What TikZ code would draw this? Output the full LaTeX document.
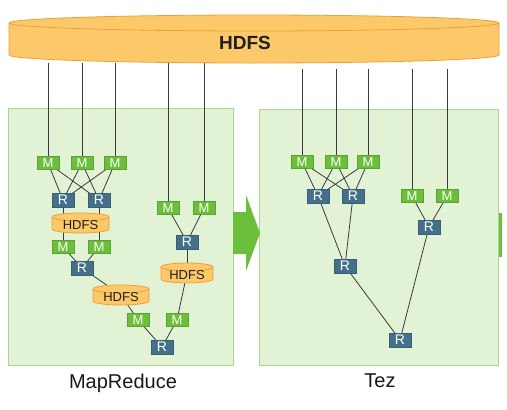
\documentclass[tikz,border=0pt]{standalone}
\usepackage{fontspec}
\setmainfont{Liberation Sans}
\definecolor{mgreen}{HTML}{6CBF3B}
\definecolor{rblue}{HTML}{44708A}
\definecolor{panelfill}{HTML}{E2F2D5}
\definecolor{panelline}{HTML}{A9D98D}
\definecolor{cylfill}{HTML}{FCC96A}
\definecolor{cylline}{HTML}{EE9F35}
\definecolor{edgecol}{HTML}{3A3A3A}
\tikzset{
  mbox/.style={fill=mgreen, draw=mgreen!85!black, line width=0.3pt, minimum width=22pt, minimum height=13pt, inner sep=0pt, text=white, font=\fontsize{13}{13}\selectfont},
  rbox/.style={fill=rblue, draw=rblue!85!black, line width=0.3pt, minimum width=22pt, minimum height=14pt, inner sep=0pt, text=white, font=\fontsize{14}{14}\selectfont},
  panel/.style={fill=panelfill, draw=panelline, line width=1pt},
  cylstyle/.style={fill=cylfill, draw=cylline, line width=0.8pt},
  edge/.style={draw=edgecol, line width=0.8pt},
  biglabel/.style={font=\fontsize{20}{20}\selectfont, text=black!90},
}
\newcommand\hdfscyl[7]{%
  \pgfmathsetmacro\cxl{#2-#4/2}\pgfmathsetmacro\cxr{#2+#4/2}%
  \pgfmathsetmacro\cyt{-#3+#5/2-#6}\pgfmathsetmacro\cyb{-#3-#5/2+#6}%
  \pgfmathsetmacro\crx{#4/2}%
  \filldraw[cylstyle] (\cxl,\cyt) -- (\cxl,\cyb) arc[start angle=180,end angle=360,x radius=\crx pt,y radius=#6pt] -- (\cxr,\cyt) arc[start angle=0,end angle=180,x radius=\crx pt,y radius=#6pt] -- cycle;
  \draw[cylstyle,fill=none] (\cxl,\cyt) arc[start angle=180,end angle=360,x radius=\crx pt,y radius=#6pt];
  \node[inner sep=0pt, minimum width=#4pt, minimum height=#5pt] (#1) at (#2,-#3) {};
  \pgfmathsetmacro\cty{-#3-#6/2}%
  \node[inner sep=0pt, text=black!88, #7] (#1text) at (#2,\cty) {HDFS};
}
\begin{document}
\begin{tikzpicture}[x=1pt,y=1pt]
\useasboundingbox (0,0) rectangle (507,-410);
\fill[white] (0,0) rectangle (507,-410);

% panels
\path[panel] (8,-108) rectangle (233,-365);
\path[panel] (259,-109) rectangle (498,-365);
% big arrow
\fill[mgreen] (233,-212) -- (246,-212) -- (246,-195) -- (260,-233) -- (246,-271) -- (246,-254) -- (233,-254) -- cycle;
\fill[mgreen] (498.5,-213) rectangle (501.5,-257);

% coordinates for top lines
\coordinate (topL) at (0,-63);
\coordinate (topR) at (0,-69);

% MapReduce positions
\path
  (48,-163) coordinate (a1) (82,-163) coordinate (a2) (115,-163) coordinate (a3)
  (63,-200) coordinate (b1) (99,-200) coordinate (b2)
  (63,-247) coordinate (c1) (99,-247) coordinate (c2)
  (82,-268) coordinate (d1)
  (138,-320) coordinate (e1) (177,-320) coordinate (e2)
  (162,-347) coordinate (f1)
  (168,-208) coordinate (g1) (204,-208) coordinate (g2)
  (187,-242) coordinate (h1);
% Tez positions
\path
  (302,-162) coordinate (ta1) (336,-162) coordinate (ta2) (368,-162) coordinate (ta3)
  (318,-196) coordinate (tb1) (353,-196) coordinate (tb2)
  (412,-196) coordinate (tg1) (447,-196) coordinate (tg2)
  (429,-227) coordinate (th1)
  (345,-266) coordinate (tc1)
  (400,-340) coordinate (td1);

% named nodes
\node[mbox] (M1) at (a1) {M};
\node[mbox] (M2) at (a2) {M};
\node[mbox] (M3) at (a3) {M};
\node[rbox] (R1) at (b1) {R};
\node[rbox] (R2) at (b2) {R};
\node[mbox] (M4) at (c1) {M};
\node[mbox] (M5) at (c2) {M};
\node[rbox] (R3) at (d1) {R};
\node[mbox] (M6) at (e1) {M};
\node[mbox] (M7) at (e2) {M};
\node[rbox] (R4) at (f1) {R};
\node[mbox] (M8) at (g1) {M};
\node[mbox] (M9) at (g2) {M};
\node[rbox] (R5) at (h1) {R};
\node[mbox] (T1) at (ta1) {M};
\node[mbox] (T2) at (ta2) {M};
\node[mbox] (T3) at (ta3) {M};
\node[rbox] (TR1) at (tb1) {R};
\node[rbox] (TR2) at (tb2) {R};
\node[mbox] (T4) at (tg1) {M};
\node[mbox] (T5) at (tg2) {M};
\node[rbox] (TR3) at (th1) {R};
\node[rbox] (TR4) at (tc1) {R};
\node[rbox] (TR5) at (td1) {R};
\node[inner sep=0pt, minimum width=57pt, minimum height=20pt] (H1) at (80.5,-223) {};
\node[inner sep=0pt, minimum width=56pt, minimum height=20pt] (H2) at (121,-295) {};
\node[inner sep=0pt, minimum width=52pt, minimum height=20pt] (H3) at (187,-273) {};

% edges
\begin{scope}[edge]
  \foreach \m in {M1,M2,M3,M8,M9} \draw (\m |- topL) -- (\m.center);
  \foreach \m in {T1,T2,T3,T4,T5} \draw (\m |- topR) -- (\m.center);
  \foreach \m in {M1,M2,M3} \foreach \r in {R1,R2} \draw (\m.center) -- (\r.center);
  \draw (R1.center) -- (R1 |- H1.center);
  \draw (R2.center) -- (R2 |- H1.center);
  \draw (M4 |- H1.center) -- (M4.center);
  \draw (M5 |- H1.center) -- (M5.center);
  \draw (M4.center) -- (R3.center);
  \draw (M5.center) -- (R3.center);
  \draw (R3.center) -- (H2.center);
  \draw (H2.center) -- (M6.center);
  \draw (M6.center) -- (R4.center);
  \draw (M7.center) -- (R4.center);
  \draw (M8.center) -- (R5.center);
  \draw (M9.center) -- (R5.center);
  \draw (R5.center) -- (H3.center);
  \draw (H3.center) -- (M7.center);
  \foreach \m in {T1,T2,T3} \foreach \r in {TR1,TR2} \draw (\m.center) -- (\r.center);
  \draw (TR1.center) -- (TR4.center);
  \draw (TR2.center) -- (TR4.center);
  \draw (T4.center) -- (TR3.center);
  \draw (T5.center) -- (TR3.center);
  \draw (TR4.center) -- (TR5.center);
  \draw (TR3.center) -- (TR5.center);
\end{scope}

% redraw boxes on top of the edges
\foreach \n/\p in {M1/a1,M2/a2,M3/a3,M4/c1,M5/c2,M6/e1,M7/e2,M8/g1,M9/g2,T1/ta1,T2/ta2,T3/ta3,T4/tg1,T5/tg2}
  \node[mbox] at (\p) {M};
\foreach \n/\p in {R1/b1,R2/b2,R3/d1,R4/f1,R5/h1,TR1/tb1,TR2/tb2,TR3/th1,TR4/tc1,TR5/td1}
  \node[rbox] at (\p) {R};

% cylinders
\hdfscyl{HA}{80.5}{223}{57}{20}{4}{font=\fontsize{13}{13}\selectfont}
\hdfscyl{HB}{121}{295}{56}{20}{4}{font=\fontsize{13}{13}\selectfont}
\hdfscyl{HC}{187}{273}{52}{20}{4}{font=\fontsize{13}{13}\selectfont}
\hdfscyl{HT}{254}{39}{490}{48}{8}{font=\bfseries\fontsize{19}{19}\selectfont, xshift=-9pt}

% labels
\node[biglabel] (lmr) at (123,-383) {MapReduce};
\node[biglabel] (ltez) at (380,-381) {Tez};
\end{tikzpicture}
\end{document}
